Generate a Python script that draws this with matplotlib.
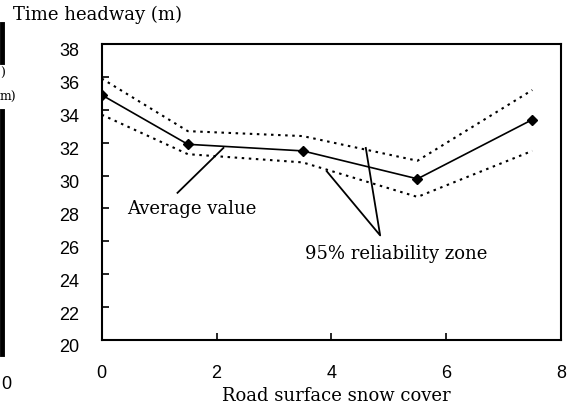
import numpy as np
import matplotlib
matplotlib.use("Agg")
import matplotlib.pyplot as plt
import matplotlib.transforms as mtransforms

# snow cover classes and time headway (m)
snow_cover = [0, 1.5, 3.5, 5.5, 7.5]
headway_avg = [34.9, 31.9, 31.5, 29.8, 33.4]
headway_upper = [35.9, 32.7, 32.4, 30.9, 35.2]
headway_lower = [33.7, 31.3, 30.8, 28.7, 31.5]

x_ticks = [0, 2, 4, 6, 8]
y_ticks = [20, 22, 24, 26, 28, 30, 32, 34, 36, 38]

serif = "DejaVu Serif"
sans = "Liberation Sans"

fig = plt.figure(figsize=(5.67, 4.06), dpi=100)
ax = fig.add_axes([0.1794, 0.1601, 0.8100, 0.7291])

dots = (0, (1.2, 2.2))
ax.plot(snow_cover, headway_upper, color="black", lw=1.5, linestyle=dots)
ax.plot(snow_cover, headway_lower, color="black", lw=1.5, linestyle=dots)
ax.plot(snow_cover, headway_avg, color="black", lw=1.2, marker="D", markersize=5.5)

ax.set_xlim(0, 8)
ax.set_ylim(20, 38)
ax.set_xticks(x_ticks)
ax.set_yticks(y_ticks)
ax.set_xticklabels([str(v) for v in x_ticks], fontsize=13, fontfamily=sans)
ax.set_yticklabels([str(v) for v in y_ticks], fontsize=13, fontfamily=sans)
ax.tick_params(axis="both", direction="in", length=5, width=1.2, color="black")
ax.tick_params(axis="x", pad=17)
ax.tick_params(axis="y", pad=16)

# labels sit a bit below their ticks
shift = mtransforms.ScaledTranslation(0, -5 / 100, fig.dpi_scale_trans)
for lab in ax.get_yticklabels():
    lab.set_transform(lab.get_transform() + shift)

for sp in ax.spines.values():
    sp.set_linewidth(1.5)

# callouts
ax.plot([1.32, 2.12], [28.95, 31.68], color="black", lw=1.3)
ax.text(1.57, 28.0, "Average value", fontsize=13, fontfamily=serif,
        ha="center", va="center")
ax.plot([3.92, 4.85, 4.60], [30.26, 26.36, 31.68], color="black", lw=1.3)
ax.text(3.54, 25.3, "95% reliability zone", fontsize=13, fontfamily=serif,
        ha="left", va="center")

fig.text(13 / 567, 1 - 15 / 406, "Time headway (m)", fontsize=13,
         fontfamily=serif, ha="left", va="center")
fig.text(336 / 567, 1 - 396 / 406, "Road surface snow cover", fontsize=13,
         fontfamily=serif, ha="center", va="center")

# edge of the neighbouring panel
fig.add_artist(plt.Line2D([2 / 567, 2 / 567], [1 - 25 / 406, 1 - 63 / 406],
                          color="black", lw=3.5, transform=fig.transFigure))
fig.add_artist(plt.Line2D([2 / 567, 2 / 567], [1 - 112 / 406, 1 - 355 / 406],
                          color="black", lw=3.5, transform=fig.transFigure))
fig.text(0, 1 - 73 / 406, ")", fontsize=9, fontfamily=serif, ha="left", va="center")
fig.text(0, 1 - 97 / 406, "m)", fontsize=9, fontfamily=serif, ha="left", va="center")
fig.text(1 / 567, 1 - 385 / 406, "0", fontsize=13, fontfamily=sans, ha="left", va="center")

fig.savefig("out.png", dpi=100)
